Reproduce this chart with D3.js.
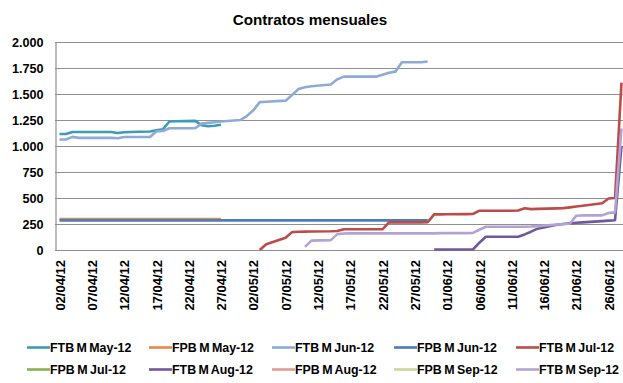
<!DOCTYPE html>
<html>
<head>
<meta charset="utf-8">
<script src="https://cdn.jsdelivr.net/npm/d3@7"></script>
<style>
  html, body { margin: 0; padding: 0; background: #ffffff; }
  svg { display: block; }
  text { font-family: Arial, "Liberation Sans", sans-serif; font-weight: bold; fill: #000; }
</style>
</head>
<body>
<svg id="chart" width="623" height="383"></svg>
<script>
// Trading days (dd/mm/yy), one entry per weekday
const tradingDays = [
  "02/04/12","03/04/12","04/04/12","05/04/12","06/04/12","09/04/12","10/04/12","11/04/12","12/04/12","13/04/12",
  "16/04/12","17/04/12","18/04/12","19/04/12","20/04/12","23/04/12","24/04/12","25/04/12","26/04/12","27/04/12",
  "30/04/12","01/05/12","02/05/12","03/05/12","04/05/12","07/05/12","08/05/12","09/05/12","10/05/12","11/05/12",
  "14/05/12","15/05/12","16/05/12","17/05/12","18/05/12","21/05/12","22/05/12","23/05/12","24/05/12","25/05/12",
  "28/05/12","29/05/12","30/05/12","31/05/12","01/06/12","04/06/12","05/06/12","06/06/12","07/06/12","08/06/12",
  "11/06/12","12/06/12","13/06/12","14/06/12","15/06/12","18/06/12","19/06/12","20/06/12","21/06/12","22/06/12",
  "25/06/12","26/06/12","27/06/12","28/06/12"
];

// Open contracts per series, aligned with tradingDays (null = not listed)
const ftbMay12 = [1115,1115,1135,1135,1135,1135,1135,1125,1132,1134,
  1140,1150,1160,1236,1238,1242,1200,1190,1195,1205];
const fpbMay12 = [298,298,298,298,298,298,298,298,298,298,
  298,298,298,298,298,298,298,298,298,298];
const ftbJun12 = [1063,1063,1088,1078,1078,1078,1078,1075,1087,1087,
  1087,1140,1145,1170,1170,1170,1215,1222,1228,1235,
  1250,1288,1343,1422,1425,1436,1490,1548,1565,1575,
  1592,1641,1667,1667,1667,1667,1686,1705,1715,1805,
  1805,1812];
const fpbJun12 = [285,285,285,285,285,285,285,285,285,285,
  285,285,285,285,285,285,285,285,285,285,
  285,285,285,285,285,285,285,285,285,285,
  285,285,285,285,285,285,285,285,285,285,
  285,285];
const ftbJul12 = [null,null,null,null,null,null,null,null,null,null,
  null,null,null,null,null,null,null,null,null,null,
  null,null,null,0,55,118,172,175,177,178,
  180,183,199,199,199,199,199,266,266,266,
  266,268,343,343,344,345,346,378,378,378,
  378,380,401,393,395,400,403,410,418,425,
  450,495,500,1610];
const fpbJul12 = [];
const ftbAug12 = [null,null,null,null,null,null,null,null,null,null,
  null,null,null,null,null,null,null,null,null,null,
  null,null,null,null,null,null,null,null,null,null,
  null,null,null,null,null,null,null,null,null,null,
  null,null,5,5,5,5,5,70,128,128,
  128,128,150,176,205,242,250,256,262,266,
  278,282,286,1000];
const fpbAug12 = [];
const fpbSep12 = [];
const ftbSep12 = [null,null,null,null,null,null,null,null,null,null,
  null,null,null,null,null,null,null,null,null,null,
  null,null,null,null,null,null,null,null,30,90,
  95,153,158,160,160,160,160,160,160,160,
  160,160,160,162,162,162,165,195,224,224,
  224,224,224,226,230,245,250,252,330,333,
  333,355,362,1170];

const seriesNames = ["FTB M May-12","FPB M May-12","FTB M Jun-12","FPB M Jun-12","FTB M Jul-12",
                     "FPB M Jul-12","FTB M Aug-12","FPB M Aug-12","FPB M Sep-12","FTB M Sep-12"];
const seriesValues = [ftbMay12, fpbMay12, ftbJun12, fpbJun12, ftbJul12,
                      fpbJul12, ftbAug12, fpbAug12, fpbSep12, ftbSep12];
const seriesColors = ["#3c9cb4","#e9893f","#8eaad8","#4a7dbb","#bd4b48",
                      "#8cb04e","#7058a0","#e09a98","#c4da9e","#b4a3d2"];

const yTicks = [0, 250, 500, 750, 1000, 1250, 1500, 1750, 2000];
const xTickLabels = ["02/04/12","07/04/12","12/04/12","17/04/12","22/04/12","27/04/12",
  "02/05/12","07/05/12","12/05/12","17/05/12","22/05/12","27/05/12",
  "01/06/12","06/06/12","11/06/12","16/06/12","21/06/12","26/06/12"];

const chartTitle = "Contratos mensuales";

const parseDay = d3.utcParse("%d/%m/%y");
const fmtDay = d3.utcFormat("%d/%m/%y");
const esLocale = d3.formatLocale({ decimal: ",", thousands: ".", grouping: [3], currency: ["", " €"] });
const fmtNum = esLocale.format(",");

const svg = d3.select("#chart");
const plot = { left: 55, right: 623.5, top: 42, bottom: 250 };

// Calendar-day axis: first and last day of the range sit half a day inside the plot
const x = d3.scaleUtc()
  .domain([parseDay("02/04/12"), parseDay("28/06/12")])
  .range([59.5, 621.5]);
const y = d3.scaleLinear().domain([0, 2000]).range([plot.bottom, plot.top]);

// Title
svg.append("text")
  .attr("x", 310).attr("y", 24.5)
  .attr("text-anchor", "middle")
  .style("font-size", "15.2px")
  .text(chartTitle);

// Horizontal gridlines
svg.append("g")
  .selectAll("line")
  .data(yTicks.filter(v => v > 0))
  .join("line")
  .attr("x1", plot.left).attr("x2", plot.right)
  .attr("y1", d => Math.round(y(d)) + 0.5).attr("y2", d => Math.round(y(d)) + 0.5)
  .attr("stroke", "#8f8f8f").attr("stroke-width", 1.2);

// Y axis
const yAxis = svg.append("g")
  .attr("transform", `translate(${plot.left + 0.5},0)`)
  .call(d3.axisLeft(y).tickValues(yTicks).tickFormat(fmtNum).tickSize(0).tickPadding(12));
yAxis.select(".domain").attr("stroke", "#8f8f8f").attr("stroke-width", 1.2);
yAxis.selectAll("text").style("font-size", "12.6px").attr("dy", "0.36em");

// X axis
const xAxis = svg.append("g")
  .attr("transform", `translate(0,${Math.round(plot.bottom) + 0.5})`)
  .call(d3.axisBottom(x).tickValues(xTickLabels.map(parseDay)).tickFormat(fmtDay).tickSize(0));
xAxis.select(".domain").attr("d", `M${plot.left},0H${plot.right}`).attr("stroke", "#8f8f8f").attr("stroke-width", 1.2);
xAxis.selectAll("text")
  .style("font-size", "13px")
  .attr("transform", "rotate(-90)")
  .attr("x", -9.5).attr("y", 0).attr("dy", "0.36em")
  .style("text-anchor", "end");

// Series lines
const line = d3.line()
  .defined(d => d.value !== null && d.value !== undefined)
  .x(d => x(d.date))
  .y(d => y(d.value));

const seriesData = seriesNames.map((name, i) => ({
  name,
  color: seriesColors[i],
  points: tradingDays
    .map((day, j) => ({ date: parseDay(day), value: seriesValues[i][j] }))
    .filter(p => p.value !== null && p.value !== undefined)
}));

svg.append("g")
  .selectAll("path")
  .data(seriesData.filter(s => s.points.length > 0))
  .join("path")
  .attr("fill", "none")
  .attr("stroke", d => d.color)
  .attr("stroke-width", 2.6)
  .attr("stroke-linejoin", "round")
  .attr("d", d => line(d.points));

// Legend: two rows of five
const legendCols = [27, 149, 272, 394, 516];
const legendRows = [347.5, 369.5];
const legend = svg.append("g")
  .selectAll("g")
  .data(seriesData)
  .join("g")
  .attr("transform", (d, i) => `translate(${legendCols[i % 5]},${legendRows[Math.floor(i / 5)]})`);
legend.append("line")
  .attr("x1", 0).attr("x2", 23).attr("y1", 0).attr("y2", 0)
  .attr("stroke", d => d.color).attr("stroke-width", 2.6);
legend.append("text")
  .attr("x", 23).attr("y", 0).attr("dy", "0.36em")
  .style("font-size", "12.4px")
  .style("word-spacing", "-1px")
  .text(d => d.name);
</script>
</body>
</html>
